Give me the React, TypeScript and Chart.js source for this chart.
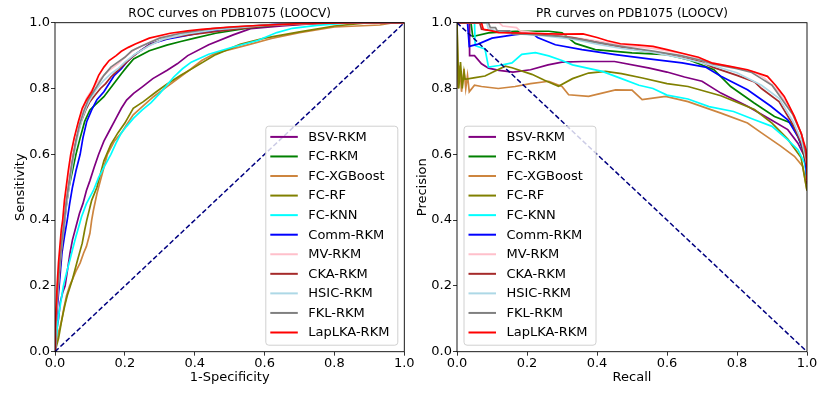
import React, { useEffect, useRef } from 'react';
import { Chart, registerables } from 'chart.js';

Chart.register(...registerables);

const SERIES_NAMES = ['BSV-RKM', 'FC-RKM', 'FC-XGBoost', 'FC-RF', 'FC-KNN', 'Comm-RKM', 'MV-RKM', 'CKA-RKM', 'HSIC-RKM', 'FKL-RKM', 'LapLKA-RKM'];
const SERIES_COLORS = ['#800080', '#008000', '#cd853f', '#808000', '#00ffff', '#0000ff', '#ffc0cb', '#a52a2a', '#add8e6', '#808080', '#ff0000'];
const TICK_VALUES = [0, 0.2, 0.4, 0.6, 0.8, 1.0];

// ROC curves: [1-Specificity, Sensitivity]
const rocBsvRkm = [[0,0],[0.002,0.03],[0.004,0.06],[0.01,0.1],[0.015,0.15],[0.022,0.18],[0.029,0.2],[0.036,0.25],[0.043,0.3],[0.05,0.34],[0.06,0.38],[0.07,0.42],[0.08,0.45],[0.09,0.49],[0.1,0.52],[0.112,0.56],[0.125,0.6],[0.14,0.64],[0.155,0.67],[0.175,0.71],[0.19,0.74],[0.205,0.765],[0.225,0.785],[0.25,0.805],[0.28,0.83],[0.32,0.855],[0.35,0.875],[0.38,0.9],[0.44,0.933],[0.51,0.963],[0.56,0.982],[0.65,0.99],[0.75,0.998],[0.85,1],[1,1]];
const rocFcRkm = [[0,0],[0.001,0.06],[0.004,0.12],[0.007,0.16],[0.012,0.22],[0.018,0.3],[0.022,0.35],[0.026,0.4],[0.033,0.45],[0.04,0.5],[0.05,0.55],[0.06,0.6],[0.072,0.65],[0.085,0.7],[0.1,0.735],[0.115,0.75],[0.14,0.775],[0.165,0.81],[0.19,0.845],[0.205,0.865],[0.225,0.89],[0.27,0.915],[0.32,0.932],[0.36,0.943],[0.4,0.953],[0.46,0.968],[0.56,0.985],[0.65,0.995],[0.75,1],[1,1]];
const rocFcXgb = [[0,0],[0.003,0.02],[0.006,0.04],[0.01,0.06],[0.014,0.073],[0.02,0.1],[0.025,0.13],[0.033,0.17],[0.042,0.2],[0.05,0.22],[0.06,0.245],[0.072,0.27],[0.082,0.3],[0.09,0.32],[0.1,0.36],[0.105,0.4],[0.11,0.43],[0.12,0.48],[0.13,0.52],[0.14,0.56],[0.15,0.6],[0.17,0.64],[0.19,0.665],[0.205,0.69],[0.224,0.72],[0.25,0.745],[0.282,0.775],[0.32,0.805],[0.358,0.835],[0.39,0.86],[0.42,0.885],[0.46,0.908],[0.5,0.918],[0.56,0.935],[0.62,0.952],[0.7,0.97],[0.8,0.987],[0.93,0.993],[0.97,1],[1,1]];
const rocFcRf = [[0,0],[0.005,0.02],[0.01,0.04],[0.02,0.1],[0.028,0.14],[0.035,0.17],[0.05,0.22],[0.065,0.28],[0.078,0.33],[0.085,0.37],[0.091,0.4],[0.105,0.46],[0.12,0.5],[0.13,0.54],[0.14,0.58],[0.16,0.63],[0.18,0.665],[0.2,0.695],[0.224,0.74],[0.253,0.76],[0.29,0.79],[0.32,0.813],[0.36,0.84],[0.4,0.865],[0.46,0.903],[0.53,0.934],[0.6,0.953],[0.7,0.972],[0.8,0.99],[0.9,1],[1,1]];
const rocFcKnn = [[0,0],[0.002,0.03],[0.005,0.05],[0.008,0.09],[0.012,0.12],[0.018,0.16],[0.024,0.2],[0.033,0.24],[0.043,0.28],[0.05,0.31],[0.06,0.35],[0.068,0.38],[0.076,0.41],[0.09,0.45],[0.11,0.49],[0.125,0.53],[0.14,0.56],[0.16,0.6],[0.175,0.635],[0.19,0.665],[0.205,0.685],[0.225,0.71],[0.25,0.735],[0.275,0.757],[0.3,0.785],[0.32,0.81],[0.34,0.835],[0.365,0.86],[0.39,0.88],[0.44,0.904],[0.51,0.926],[0.58,0.946],[0.635,0.97],[0.68,0.983],[0.75,0.992],[0.85,1],[1,1]];
const rocCommRkm = [[0,0],[0.001,0.06],[0.004,0.1],[0.007,0.14],[0.012,0.2],[0.016,0.25],[0.02,0.3],[0.027,0.35],[0.035,0.4],[0.042,0.45],[0.05,0.5],[0.06,0.55],[0.072,0.6],[0.08,0.65],[0.091,0.7],[0.105,0.735],[0.12,0.766],[0.14,0.79],[0.155,0.815],[0.17,0.84],[0.19,0.86],[0.205,0.88],[0.225,0.9],[0.245,0.915],[0.272,0.935],[0.32,0.95],[0.37,0.96],[0.42,0.97],[0.5,0.982],[0.6,0.993],[0.7,1],[1,1]];
const rocMvRkm = [[0,0],[0.002,0.1],[0.006,0.18],[0.01,0.24],[0.015,0.3],[0.02,0.36],[0.025,0.42],[0.031,0.47],[0.038,0.53],[0.046,0.59],[0.056,0.65],[0.068,0.7],[0.08,0.74],[0.09,0.77],[0.105,0.795],[0.118,0.815],[0.135,0.835],[0.155,0.855],[0.18,0.875],[0.205,0.9],[0.23,0.92],[0.26,0.935],[0.3,0.955],[0.37,0.97],[0.46,0.983],[0.6,0.993],[0.78,1],[1,1]];
const rocCkaRkm = [[0,0],[0.002,0.08],[0.006,0.15],[0.01,0.2],[0.014,0.25],[0.018,0.3],[0.023,0.35],[0.028,0.4],[0.033,0.45],[0.039,0.5],[0.046,0.55],[0.053,0.6],[0.062,0.65],[0.075,0.7],[0.088,0.735],[0.1,0.76],[0.115,0.78],[0.13,0.8],[0.145,0.815],[0.16,0.835],[0.18,0.855],[0.2,0.875],[0.22,0.895],[0.245,0.915],[0.27,0.932],[0.3,0.945],[0.33,0.955],[0.4,0.965],[0.5,0.978],[0.6,0.99],[0.75,0.998],[0.85,1],[1,1]];
const rocHsicRkm = [[0,0],[0.003,0.1],[0.008,0.18],[0.012,0.24],[0.017,0.3],[0.023,0.36],[0.03,0.42],[0.036,0.47],[0.043,0.52],[0.05,0.57],[0.058,0.62],[0.068,0.67],[0.078,0.71],[0.09,0.745],[0.105,0.775],[0.12,0.8],[0.14,0.825],[0.16,0.845],[0.18,0.86],[0.2,0.88],[0.23,0.905],[0.27,0.93],[0.31,0.95],[0.38,0.967],[0.47,0.98],[0.6,0.992],[0.78,1],[1,1]];
const rocFklRkm = [[0,0],[0.002,0.08],[0.006,0.16],[0.01,0.22],[0.015,0.28],[0.02,0.34],[0.027,0.4],[0.033,0.46],[0.04,0.51],[0.048,0.57],[0.058,0.63],[0.07,0.69],[0.082,0.73],[0.095,0.765],[0.11,0.79],[0.125,0.815],[0.14,0.84],[0.16,0.865],[0.18,0.88],[0.2,0.895],[0.22,0.915],[0.25,0.93],[0.3,0.953],[0.36,0.968],[0.45,0.982],[0.6,0.993],[0.75,1],[1,1]];
const rocLapLkaRkm = [[0,0],[0,0.06],[0.003,0.12],[0.006,0.2],[0.01,0.27],[0.014,0.32],[0.018,0.37],[0.022,0.4],[0.027,0.46],[0.032,0.5],[0.038,0.55],[0.045,0.6],[0.055,0.65],[0.067,0.7],[0.078,0.74],[0.09,0.765],[0.105,0.79],[0.115,0.815],[0.125,0.84],[0.14,0.865],[0.155,0.885],[0.175,0.9],[0.19,0.913],[0.21,0.925],[0.23,0.935],[0.27,0.953],[0.33,0.968],[0.38,0.975],[0.42,0.98],[0.5,0.987],[0.55,0.99],[0.7,0.997],[0.85,1],[1,1]];
const rocChance = [[0,0],[1,1]];

// PR curves: [Recall, Precision]
const prBsvRkm = [[0,1],[0.035,1],[0.036,0.9],[0.05,0.9],[0.07,0.875],[0.09,0.862],[0.12,0.855],[0.16,0.85],[0.21,0.857],[0.26,0.872],[0.3,0.88],[0.36,0.882],[0.45,0.882],[0.55,0.862],[0.6,0.85],[0.65,0.835],[0.7,0.822],[0.754,0.786],[0.83,0.746],[0.897,0.705],[0.945,0.675],[0.974,0.634],[0.993,0.594],[1,0.52]];
const prFcRkm = [[0,1],[0.04,1],[0.045,0.958],[0.09,0.969],[0.166,0.974],[0.262,0.974],[0.3,0.969],[0.338,0.937],[0.395,0.918],[0.5,0.908],[0.6,0.903],[0.66,0.888],[0.734,0.857],[0.782,0.806],[0.849,0.756],[0.907,0.715],[0.954,0.695],[0.974,0.654],[0.988,0.614],[0.997,0.563],[1,0.5]];
const prFcXgb = [[0,1],[0.003,0.8],[0.008,0.87],[0.013,0.79],[0.02,0.86],[0.025,0.8],[0.03,0.84],[0.035,0.79],[0.05,0.81],[0.07,0.806],[0.118,0.8],[0.166,0.806],[0.21,0.815],[0.262,0.822],[0.3,0.806],[0.319,0.781],[0.376,0.776],[0.453,0.796],[0.5,0.795],[0.529,0.766],[0.596,0.776],[0.66,0.76],[0.754,0.725],[0.83,0.695],[0.87,0.665],[0.925,0.625],[0.964,0.594],[0.988,0.563],[1,0.49]];
const prFcRf = [[0,1],[0.005,0.8],[0.01,0.88],[0.015,0.8],[0.02,0.85],[0.023,0.828],[0.052,0.833],[0.08,0.838],[0.109,0.853],[0.138,0.868],[0.157,0.863],[0.214,0.843],[0.25,0.825],[0.29,0.807],[0.33,0.83],[0.376,0.847],[0.424,0.852],[0.47,0.845],[0.53,0.832],[0.6,0.815],[0.66,0.806],[0.754,0.778],[0.85,0.736],[0.9,0.695],[0.945,0.646],[0.983,0.59],[1,0.49]];
const prFcKnn = [[0,1],[0.05,1],[0.052,0.93],[0.08,0.92],[0.09,0.865],[0.12,0.87],[0.157,0.878],[0.185,0.904],[0.224,0.909],[0.262,0.899],[0.3,0.885],[0.33,0.872],[0.415,0.852],[0.47,0.83],[0.52,0.81],[0.56,0.8],[0.6,0.78],[0.66,0.768],[0.72,0.745],[0.79,0.73],[0.85,0.705],[0.9,0.685],[0.945,0.644],[0.974,0.614],[0.993,0.574],[1,0.53]];
const prCommRkm = [[0,1],[0.03,1],[0.035,0.928],[0.06,0.935],[0.1,0.953],[0.166,0.964],[0.214,0.969],[0.23,0.955],[0.281,0.933],[0.357,0.918],[0.453,0.903],[0.548,0.89],[0.643,0.878],[0.71,0.865],[0.754,0.837],[0.83,0.796],[0.897,0.746],[0.945,0.705],[0.974,0.654],[0.993,0.604],[1,0.53]];
const prMvRkm = [[0,1],[0.12,1],[0.13,0.99],[0.17,0.985],[0.18,0.975],[0.22,0.97],[0.3,0.96],[0.4,0.945],[0.47,0.932],[0.56,0.922],[0.65,0.905],[0.73,0.878],[0.8,0.862],[0.85,0.85],[0.88,0.83],[0.92,0.79],[0.945,0.75],[0.96,0.72],[0.985,0.66],[1,0.58],[1,0.52]];
const prCkaRkm = [[0,1],[0.065,1],[0.07,0.98],[0.15,0.97],[0.25,0.963],[0.33,0.955],[0.4,0.94],[0.47,0.925],[0.56,0.91],[0.64,0.895],[0.7,0.88],[0.73,0.865],[0.8,0.84],[0.85,0.82],[0.87,0.8],[0.92,0.76],[0.96,0.69],[0.985,0.63],[1,0.56],[1,0.51]];
const prHsicRkm = [[0,1],[0.085,1],[0.09,0.98],[0.15,0.968],[0.25,0.96],[0.33,0.95],[0.4,0.935],[0.47,0.922],[0.56,0.91],[0.64,0.893],[0.73,0.87],[0.8,0.848],[0.87,0.81],[0.92,0.77],[0.96,0.7],[0.985,0.64],[1,0.57],[1,0.52]];
const prFklRkm = [[0,1],[0.09,1],[0.095,0.985],[0.11,0.985],[0.115,0.975],[0.15,0.975],[0.16,0.965],[0.2,0.965],[0.3,0.958],[0.35,0.95],[0.4,0.94],[0.47,0.928],[0.52,0.92],[0.56,0.914],[0.64,0.9],[0.7,0.885],[0.73,0.875],[0.8,0.86],[0.84,0.85],[0.87,0.83],[0.9,0.81],[0.92,0.78],[0.94,0.75],[0.96,0.72],[0.985,0.66],[1,0.58],[1,0.52]];
const prLapLkaRkm = [[0,1],[0.07,1],[0.075,0.98],[0.1,0.975],[0.12,0.97],[0.2,0.968],[0.3,0.965],[0.36,0.966],[0.4,0.955],[0.43,0.945],[0.467,0.936],[0.52,0.932],[0.56,0.928],[0.6,0.918],[0.64,0.908],[0.69,0.895],[0.73,0.877],[0.78,0.867],[0.83,0.857],[0.887,0.837],[0.91,0.81],[0.935,0.776],[0.95,0.745],[0.964,0.715],[0.983,0.665],[0.997,0.614],[1,0.56],[1,0.52]];
const prChance = [[0,1],[1,0]];

const ROC_SERIES = [rocBsvRkm, rocFcRkm, rocFcXgb, rocFcRf, rocFcKnn, rocCommRkm, rocMvRkm, rocCkaRkm, rocHsicRkm, rocFklRkm, rocLapLkaRkm];
const PR_SERIES = [prBsvRkm, prFcRkm, prFcXgb, prFcRf, prFcKnn, prCommRkm, prMvRkm, prCkaRkm, prHsicRkm, prFklRkm, prLapLkaRkm];

const FONT = '"DejaVu Sans", sans-serif';
const CANVAS_W = 415;
const CANVAS_H = 395;

const decorPlugin = {
  id: 'decor',
  afterDraw(chart: any, _args: any, opts: any) {
    const { ctx, chartArea: a } = chart;
    ctx.save();
    // axes frame
    ctx.strokeStyle = '#000';
    ctx.lineWidth = 0.9;
    ctx.strokeRect(a.left, a.top, a.right - a.left, a.bottom - a.top);
    // title & labels
    ctx.fillStyle = '#000';
    ctx.textAlign = 'center';
    ctx.textBaseline = 'middle';
    ctx.font = `12px ${FONT}`;
    ctx.fillText(opts.title, (a.left + a.right) / 2, a.top - 8.7);
    ctx.font = `13px ${FONT}`;
    ctx.fillText(opts.xLabel, (a.left + a.right) / 2, a.bottom + 26);
    ctx.save();
    ctx.translate(a.left - 34.5, (a.top + a.bottom) / 2);
    ctx.rotate(-Math.PI / 2);
    ctx.fillText(opts.yLabel, 0, 0);
    ctx.restore();
    // legend
    const w = 132;
    const h = 219;
    const bx = opts.legendCorner === 'right' ? a.right - 6.5 - w : a.left + 7;
    const by = a.bottom - 6.5 - h;
    const r = 3;
    ctx.beginPath();
    ctx.moveTo(bx + r, by);
    ctx.lineTo(bx + w - r, by);
    ctx.arcTo(bx + w, by, bx + w, by + r, r);
    ctx.lineTo(bx + w, by + h - r);
    ctx.arcTo(bx + w, by + h, bx + w - r, by + h, r);
    ctx.lineTo(bx + r, by + h);
    ctx.arcTo(bx, by + h, bx, by + h - r, r);
    ctx.lineTo(bx, by + r);
    ctx.arcTo(bx, by, bx + r, by, r);
    ctx.closePath();
    ctx.fillStyle = 'rgba(255,255,255,0.8)';
    ctx.fill();
    ctx.strokeStyle = '#d0d0d0';
    ctx.lineWidth = 1;
    ctx.stroke();
    ctx.textAlign = 'left';
    ctx.font = `13px ${FONT}`;
    SERIES_NAMES.forEach((name, i) => {
      const y = by + 10.7 + i * 19.56;
      ctx.strokeStyle = SERIES_COLORS[i];
      ctx.lineWidth = 2;
      ctx.beginPath();
      ctx.moveTo(bx + 4.5, y);
      ctx.lineTo(bx + 32, y);
      ctx.stroke();
      ctx.fillStyle = '#000';
      ctx.fillText(name, bx + 42.5, y + 0.5);
    });
    ctx.restore();
  },
};

function toPoints(arr: number[][]) {
  return arr.map(([x, y]) => ({ x, y }));
}

function makeAxis(isX: boolean, size: number) {
  return {
    type: 'linear',
    min: 0,
    max: 1,
    afterBuildTicks: (s: any) => {
      s.ticks = TICK_VALUES.map((v) => ({ value: v }));
    },
    afterFit: (s: any) => {
      if (isX) s.height = size;
      else s.width = size;
    },
    ticks: {
      font: { family: FONT, size: 13 },
      color: '#000',
      padding: isX ? 0 : 1,
      maxRotation: 0,
      autoSkip: false,
      callback: (v: any) => Number(v).toFixed(1),
    },
    grid: {
      drawOnChartArea: false,
      drawTicks: true,
      tickLength: 4,
      color: '#000',
      lineWidth: 0.8,
    },
    border: { display: false },
  };
}

function makeConfig(kind: 'roc' | 'pr') {
  const series = kind === 'roc' ? ROC_SERIES : PR_SERIES;
  const datasets: any[] = series.map((arr, i) => ({
    label: SERIES_NAMES[i],
    data: toPoints(arr),
    borderColor: SERIES_COLORS[i],
    borderWidth: 1.7,
    pointRadius: 0,
    fill: false,
    tension: 0,
    order: 11 - i,
  }));
  datasets.push({
    label: '',
    data: toPoints(kind === 'roc' ? rocChance : prChance),
    borderColor: '#000080',
    borderWidth: 1.5,
    borderDash: [5, 2.5],
    pointRadius: 0,
    fill: false,
    order: 0,
  });
  const leftW = kind === 'roc' ? 55 : 42;
  const rightPad = kind === 'roc' ? 10.7 : 23;
  return {
    type: 'line',
    data: { datasets },
    plugins: [decorPlugin],
    options: {
      responsive: false,
      animation: false,
      events: [],
      layout: { padding: { left: 0, right: rightPad, top: 22.7, bottom: 0 } },
      plugins: {
        legend: { display: false },
        tooltip: { enabled: false },
        decor: {
          title: kind === 'roc' ? 'ROC curves on PDB1075 (LOOCV)' : 'PR curves on PDB1075 (LOOCV)',
          xLabel: kind === 'roc' ? '1-Specificity' : 'Recall',
          yLabel: kind === 'roc' ? 'Sensitivity' : 'Precision',
          legendCorner: kind === 'roc' ? 'right' : 'left',
        },
      },
      scales: {
        x: makeAxis(true, CANVAS_H - 351.7),
        y: makeAxis(false, leftW),
      },
    },
  };
}

export default function App() {
  const leftRef = useRef<HTMLCanvasElement>(null);
  const rightRef = useRef<HTMLCanvasElement>(null);
  useEffect(() => {
    const c1 = new Chart(leftRef.current as HTMLCanvasElement, makeConfig('roc') as any);
    const c2 = new Chart(rightRef.current as HTMLCanvasElement, makeConfig('pr') as any);
    return () => {
      c1.destroy();
      c2.destroy();
    };
  }, []);
  return (
    <div style={{ position: 'absolute', left: 0, top: 0, width: 830, height: 395, background: '#fff' }}>
      <canvas ref={leftRef} width={CANVAS_W} height={CANVAS_H} style={{ position: 'absolute', left: 0, top: 0 }} />
      <canvas ref={rightRef} width={CANVAS_W} height={CANVAS_H} style={{ position: 'absolute', left: 415, top: 0 }} />
    </div>
  );
}
